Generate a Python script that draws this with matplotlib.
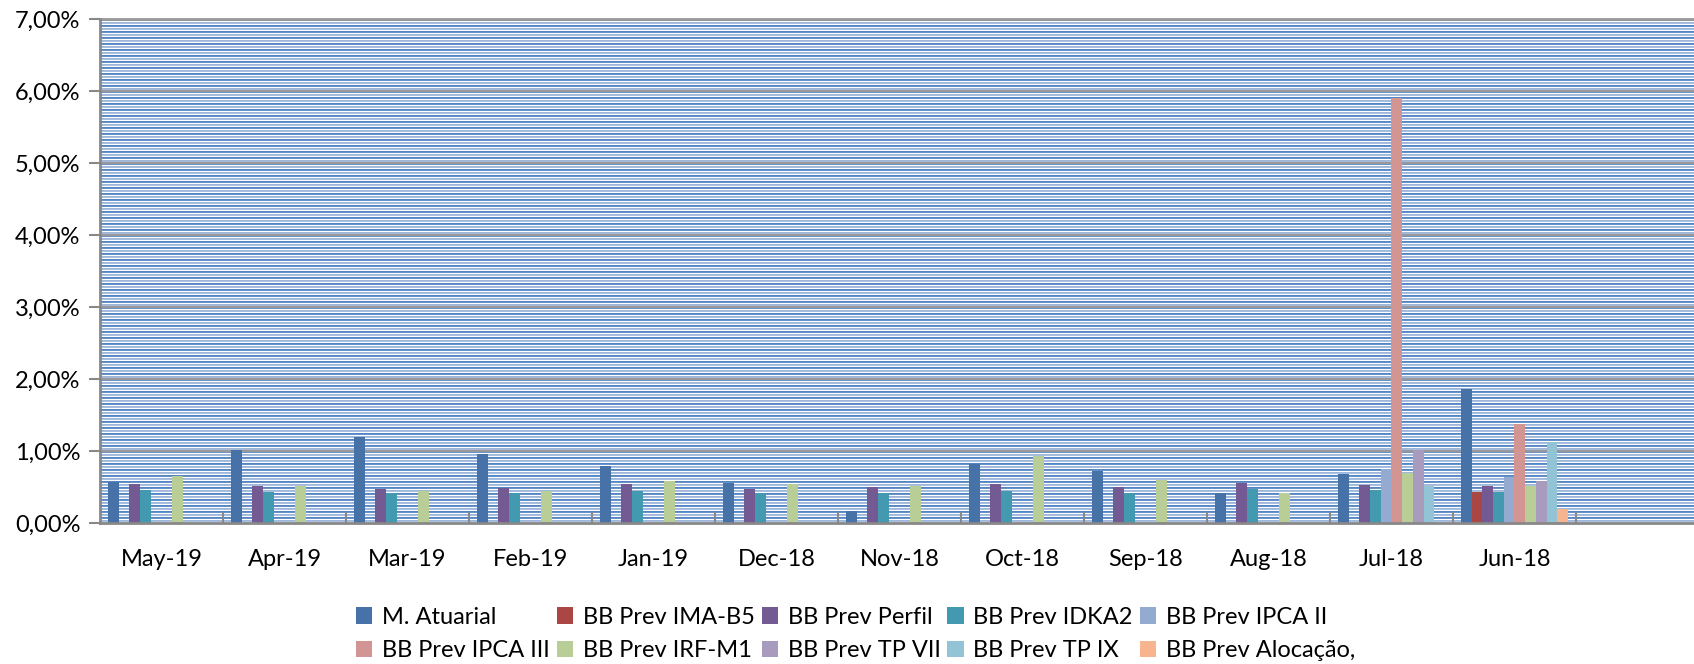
import numpy as np
import matplotlib
matplotlib.use("Agg")
import matplotlib.pyplot as plt
from matplotlib.patches import Patch
from matplotlib.ticker import FuncFormatter, FixedLocator

plt.rcParams["font.family"] = ["Lato", "DejaVu Sans"]

# Monthly returns (%), newest month first
months = ["May-19", "Apr-19", "Mar-19", "Feb-19", "Jan-19", "Dec-18",
          "Nov-18", "Oct-18", "Sep-18", "Aug-18", "Jul-18", "Jun-18"]

series_names = ["M. Atuarial", "BB Prev IMA-B5", "BB Prev Perfil", "BB Prev IDKA2",
                "BB Prev IPCA II", "BB Prev IPCA III", "BB Prev IRF-M1",
                "BB Prev TP VII", "BB Prev TP IX", "BB Prev Alocação,"]

m_atuarial = [0.565, 1.01, 1.19, 0.96, 0.79, 0.56, 0.165, 0.82, 0.72, 0.415, 0.68, 1.86]
ima_b5 = [0, 0, 0, 0, 0, 0, 0, 0, 0, 0, 0, 0.43]
perfil = [0.54, 0.52, 0.47, 0.49, 0.54, 0.47, 0.50, 0.54, 0.50, 0.56, 0.53, 0.52]
idka2 = [0.46, 0.43, 0.41, 0.415, 0.45, 0.415, 0.415, 0.45, 0.41, 0.475, 0.46, 0.43]
ipca_ii = [0, 0, 0, 0, 0, 0, 0, 0, 0, 0, 0.75, 0.64]
ipca_iii = [0, 0, 0, 0, 0, 0, 0, 0, 0, 0, 5.90, 1.38]
irf_m1 = [0.65, 0.52, 0.44, 0.44, 0.58, 0.54, 0.52, 0.93, 0.60, 0.41, 0.70, 0.52]
tp_vii = [0, 0, 0, 0, 0, 0, 0, 0, 0, 0, 1.01, 0.59]
tp_ix = [0, 0, 0, 0, 0, 0, 0, 0, 0, 0, 0.52, 1.12]
alocacao = [0, 0, 0, 0, 0, 0, 0, 0, 0, 0, 0, 0.19]

all_series = [m_atuarial, ima_b5, perfil, idka2, ipca_ii,
              ipca_iii, irf_m1, tp_vii, tp_ix, alocacao]

colors = ["#4672A8", "#AA4643", "#735A92", "#4299B0", "#94AAD0",
          "#D29594", "#B9CD97", "#A99BBE", "#92C4D6", "#F8B48E"]

y_ticks = [0, 1, 2, 3, 4, 5, 6, 7]

W, H = 1694, 664
fig = plt.figure(figsize=(W / 100, H / 100), dpi=100)
left, right, top, bottom = 100, 1694, 19, 523
ax = fig.add_axes([left / W, 1 - bottom / H, (right - left) / W, (bottom - top) / H])

x_lo, x_hi = -0.5, 12.46
y_lo, y_hi = 0, 7

# striped plot-area fill (Excel pattern), one image row per pixel
rows = bottom - top
pattern = np.array([[0.33, 0.52, 0.76], [0.40, 0.58, 0.80], [1, 1, 1],
                    [0.62, 0.72, 0.86], [0.66, 0.75, 0.88], [1, 1, 1]])
stripes = pattern[np.arange(rows) % len(pattern)][:, None, :]
ax.imshow(stripes, extent=(x_lo, x_hi, y_lo, y_hi), aspect="auto",
          interpolation="nearest", zorder=0)

for t in y_ticks[1:]:
    ax.axhline(t, color="#999999", lw=1.6, zorder=1)

x = np.arange(len(months))
bar_w = 0.087
for k, (vals, c) in enumerate(zip(all_series, colors)):
    ax.bar(x - 0.435 + bar_w * (k + 0.5), vals, width=bar_w, color=c,
           zorder=2, linewidth=0)

ax.set_xlim(x_lo, x_hi)
ax.set_ylim(y_lo, y_hi)

ax.yaxis.set_major_locator(FixedLocator(y_ticks))
ax.yaxis.set_major_formatter(FuncFormatter(lambda v, p: f"{v:.2f}%".replace(".", ",")))
ax.tick_params(axis="y", direction="out", length=8, width=1.5, color="#888888",
               labelsize=17, pad=6)

ax.set_xticks(np.arange(len(months)) + 0.5)
ax.set_xticklabels([])
ax.tick_params(axis="x", which="major", direction="in", length=8, width=1.5,
               color="#888888")
ax.set_xticks(x, minor=True)
ax.set_xticklabels(months, minor=True)
ax.tick_params(axis="x", which="minor", length=0, labelsize=17, pad=19)

for side in ["top", "right"]:
    ax.spines[side].set_visible(False)
for side in ["left", "bottom"]:
    ax.spines[side].set_color("#888888")
    ax.spines[side].set_linewidth(2)
ax.axhline(7, color="#999999", lw=2, zorder=1, clip_on=False)

handles = [Patch(facecolor=c, label=n) for c, n in zip(colors, series_names)]
order = [0, 5, 1, 6, 2, 7, 3, 8, 4, 9]
fig.legend([handles[i] for i in order], [series_names[i] for i in order],
           loc="center", bbox_to_anchor=(0.505, 1 - 634 / H), ncol=5,
           frameon=False, fontsize=17, handlelength=0.7, handleheight=0.7,
           handletextpad=0.4, columnspacing=0.3, labelspacing=0.55)

fig.savefig("out.png", dpi=100)
